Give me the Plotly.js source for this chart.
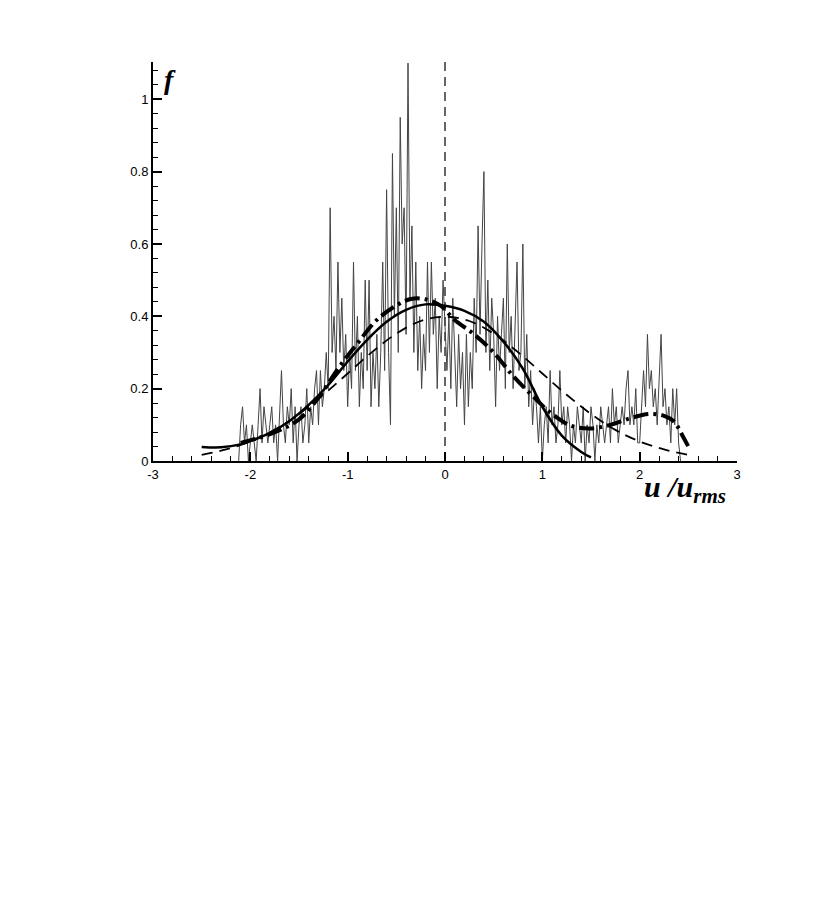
<!DOCTYPE html>
<html>
<head>
<meta charset="utf-8">
<script src="https://cdn.plot.ly/plotly-3.0.1.min.js"></script>
<style>html,body{margin:0;padding:0;background:#fff;}#chart{width:831px;height:902px;}</style>
</head>
<body>
<div id="chart"></div>
<script>
// Measured PDF (noisy), sampled from x0 = -2.12 with step 0.02
var noiseX0 = -2.12;
var noiseDx = 0.02;
var noiseY = [
  // -2.12 .. -1.50
  0, 0.1, 0.15, 0.05, 0.1, 0, 0.05, 0.1, 0.05, 0, 0.1, 0.2, 0.05, 0.15, 0.1, 0.05,
  0.1, 0.15, 0.05, 0.1, 0, 0.15, 0.25, 0.1, 0.05, 0.15, 0.1, 0.2, 0.05, 0.15, 0, 0.1,
  // -1.48 .. -1.20
  0.15, 0.05, 0.1, 0.2, 0.05, 0.15, 0.1, 0.2, 0.25, 0.1, 0.25, 0.15, 0.2, 0.3, 0.2,
  // -1.18 .. -0.66
  0.7, 0.3, 0.4, 0.25, 0.55, 0.3, 0.45, 0.25, 0.35, 0.15, 0.3, 0.2, 0.55, 0.25, 0.4,
  0.15, 0.3, 0.2, 0.5, 0.25, 0.5, 0.15, 0.3, 0.2, 0.35, 0.15, 0.3,
  // -0.64 .. -0.30
  0.55, 0.25, 0.75, 0.3, 0.1, 0.85, 0.4, 0.7, 0.3, 0.95, 0.6, 0.7, 0.35, 1.1, 0.45, 0.65, 0.3, 0.55,
  // -0.28 .. 0.30
  0.25, 0.4, 0.2, 0.35, 0.25, 0.55, 0.3, 0.55, 0.35, 0.45, 0.2, 0.4, 0.3, 0.5, 0.35,
  0.25, 0.4, 0.2, 0.45, 0.3, 0.15, 0.35, 0.2, 0.3, 0.1, 0.35, 0.15, 0.3, 0.2, 0.45,
  // 0.32 .. 0.98
  0.3, 0.65, 0.35, 0.6, 0.8, 0.3, 0.5, 0.25, 0.45, 0.35, 0.15, 0.4, 0.25, 0.35, 0.45, 0.2, 0.6,
  0.3, 0.4, 0.2, 0.35, 0.55, 0.25, 0.3, 0.6, 0.2, 0.35, 0.15, 0.25, 0.1, 0.2, 0.15, 0.05, 0.15,
  // 1.00 .. 1.80
  0, 0.1, 0.15, 0.05, 0.25, 0.1, 0.15, 0.05, 0.1, 0.25, 0.1, 0.15, 0.05, 0.15, 0.1, 0, 0.1,
  0.05, 0.15, 0.1, 0.05, 0.15, 0, 0.1, 0.05, 0.15, 0.1, 0, 0.1, 0.05, 0.15, 0.1, 0.05, 0.1,
  0.15, 0.05, 0.2, 0.1, 0.15, 0.05, 0.1,
  // 1.82 .. 2.42
  0.15, 0.1, 0.2, 0.25, 0.1, 0.15, 0.1, 0.2, 0.05, 0.05, 0.15, 0.25, 0.15, 0.35, 0.2, 0.25,
  0.15, 0.2, 0.1, 0.25, 0.35, 0.15, 0.2, 0.1, 0.15, 0.05, 0.2, 0.1, 0.2, 0.05, 0
];

// Solid curve
var solidX = [-2.5, -2.3, -2.1, -2.0, -1.8, -1.6, -1.4, -1.2, -1.0, -0.8, -0.6, -0.4, -0.2, 0, 0.2, 0.4, 0.6, 0.8, 1.0, 1.2, 1.4, 1.5];
var solidY = [0.039, 0.038, 0.046, 0.055, 0.078, 0.11, 0.155, 0.21, 0.275, 0.335, 0.385, 0.418, 0.433, 0.429, 0.415, 0.385, 0.33, 0.255, 0.15, 0.07, 0.025, 0.01];

// Dashed curve
var dashX = [-2.5, -2.25, -2.0, -1.75, -1.5, -1.25, -1.0, -0.75, -0.5, -0.25, 0, 0.25, 0.5, 0.75, 1.0, 1.25, 1.5, 1.75, 2.0, 2.25, 2.5];
var dashY = [0.017, 0.032, 0.054, 0.086, 0.13, 0.183, 0.242, 0.301, 0.352, 0.387, 0.399, 0.387, 0.352, 0.301, 0.242, 0.183, 0.13, 0.086, 0.054, 0.032, 0.017];

// Dash-dot curve
var dashDotX = [-2.1, -1.9, -1.7, -1.5, -1.3, -1.1, -0.9, -0.7, -0.5, -0.35, -0.2, -0.05, 0.1, 0.3, 0.5, 0.7, 0.9, 1.1, 1.3, 1.5, 1.7, 1.9, 2.1, 2.25, 2.35, 2.45, 2.5];
var dashDotY = [0.05, 0.065, 0.085, 0.115, 0.175, 0.255, 0.325, 0.39, 0.43, 0.448, 0.447, 0.43, 0.39, 0.35, 0.3, 0.235, 0.18, 0.13, 0.097, 0.09, 0.1, 0.118, 0.13, 0.125, 0.11, 0.065, 0.04];

// Reference line at u = 0
var refX = [0, 0];
var refY = [0, 1.103];

var xTickVals = [-3, -2, -1, 0, 1, 2, 3];
var xTickText = ['-3', '-2', '-1', '0', '1', '2', '3'];
var yTickVals = [0, 0.2, 0.4, 0.6, 0.8, 1];
var yTickText = ['0', '0.2', '0.4', '0.6', '0.8', '1'];

var traces = [
  {x: refX, y: refY, mode: 'lines', line: {color: '#000', width: 1.2, dash: '9px,6px'}, hoverinfo: 'skip'},
  {x0: noiseX0, dx: noiseDx, y: noiseY, mode: 'lines', line: {color: '#444', width: 1}},
  {x: dashX, y: dashY, mode: 'lines', line: {color: '#000', width: 1.8, dash: '11px,7px', shape: 'spline'}},
  {x: solidX, y: solidY, mode: 'lines', line: {color: '#000', width: 2.5, shape: 'spline'}},
  {x: dashDotX, y: dashDotY, mode: 'lines', line: {color: '#000', width: 4, dash: '15px,5px,3px,5px', shape: 'spline'}}
];

var serif = '"Liberation Serif", "Times New Roman", Times, serif';

var layout = {
  width: 831, height: 902,
  margin: {l: 153, r: 94, t: 62, b: 441},
  paper_bgcolor: '#fff', plot_bgcolor: '#fff',
  showlegend: false,
  font: {family: '"Liberation Sans", Arial, Helvetica, sans-serif', size: 13, color: '#000'},
  xaxis: {
    range: [-3, 3], showgrid: false, zeroline: false,
    showline: true, linecolor: '#000', linewidth: 2,
    ticks: 'inside', ticklen: 9, tickwidth: 2, tickcolor: '#000',
    tickvals: xTickVals, ticktext: xTickText,
    minor: {dtick: 0.2, ticks: 'inside', ticklen: 5, tickwidth: 1, tickcolor: '#000', showgrid: false},
    tickfont: {size: 13}
  },
  yaxis: {
    range: [0, 1.103], showgrid: false, zeroline: false,
    showline: true, linecolor: '#000', linewidth: 2,
    ticks: 'inside', ticklen: 9, tickwidth: 2, tickcolor: '#000',
    tickvals: yTickVals, ticktext: yTickText,
    minor: {dtick: 0.04, ticks: 'inside', ticklen: 5, tickwidth: 1, tickcolor: '#000', showgrid: false},
    tickfont: {size: 13}
  },
  annotations: [
    {text: 'f', xref: 'paper', yref: 'paper', x: 0.029, y: 0.955, showarrow: false,
     xanchor: 'center', yanchor: 'middle',
     font: {family: serif, size: 28, weight: 'bold', style: 'italic', color: '#000'}},
    {text: 'u /u<sub>rms</sub>', xref: 'paper', yref: 'paper', x: 0.911, y: -0.07, showarrow: false,
     xanchor: 'center', yanchor: 'middle',
     font: {family: serif, size: 30, weight: 'bold', style: 'italic', color: '#000'}}
  ]
};

Plotly.newPlot('chart', traces, layout, {staticPlot: true, displayModeBar: false});
</script>
</body>
</html>
